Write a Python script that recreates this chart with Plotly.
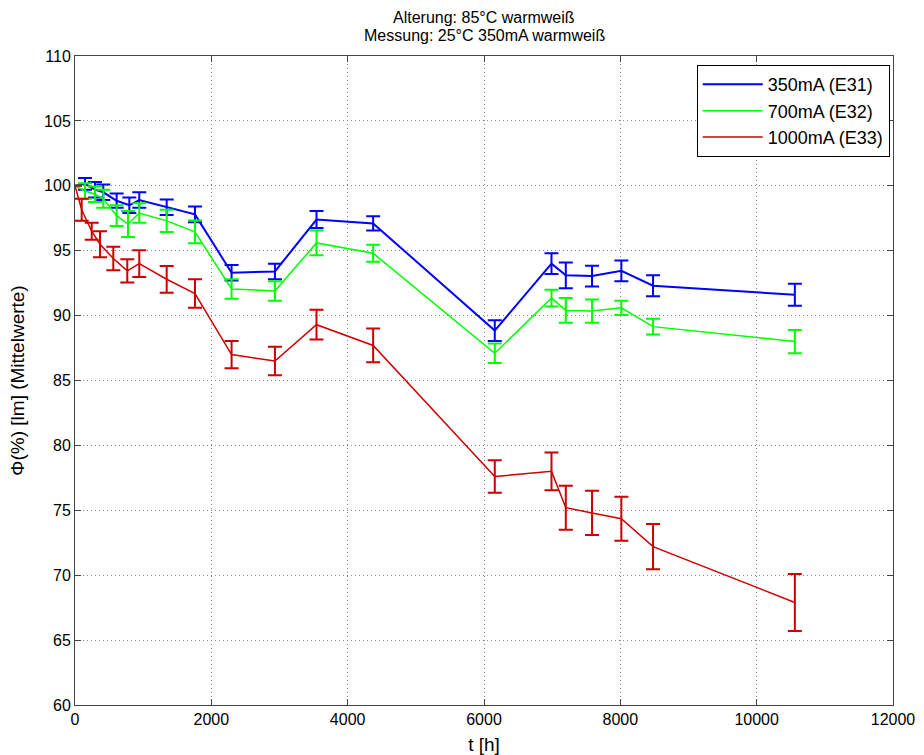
import plotly.graph_objects as go

# Messzeitpunkte [h]
t_350 = [0, 147, 293, 415, 611, 797, 943, 1345, 1760, 2297, 2933, 3543, 4374, 6158, 6990, 7200, 7585, 8015, 8480, 10560]
t_700 = [0, 147, 293, 415, 611, 777, 943, 1345, 1760, 2297, 2933, 3543, 4374, 6158, 6990, 7200, 7585, 8015, 8480, 10560]
t_1000 = [0, 98, 245, 367, 562, 767, 943, 1345, 1760, 2297, 2933, 3543, 4374, 6158, 6990, 7200, 7585, 8015, 8480, 10560]

# Lichtstrom in % (Mittelwerte) und Fehlerbalken
phi_350 = [100, 100.15, 99.7, 99.5, 98.85, 98.5, 98.9, 98.35, 97.8, 93.3, 93.4, 97.4, 97.1, 88.85, 94.0, 93.1, 93.05, 93.45, 92.3, 91.6]
err_350 = [0, 0.45, 0.6, 0.6, 0.55, 0.6, 0.6, 0.6, 0.6, 0.6, 0.6, 0.65, 0.55, 0.8, 0.8, 1.0, 0.8, 0.8, 0.8, 0.85]

phi_700 = [100, 99.6, 99.35, 99.0, 97.7, 97.05, 97.9, 97.3, 96.45, 92.05, 91.9, 95.6, 94.8, 87.1, 91.35, 90.4, 90.35, 90.6, 89.15, 88.0]
err_700 = [0, 0.6, 0.6, 0.7, 0.8, 1.0, 0.75, 0.85, 0.88, 0.75, 0.75, 0.95, 0.65, 0.75, 0.65, 0.95, 0.9, 0.55, 0.6, 0.9]

phi_1000 = [100, 98.15, 96.5, 95.5, 94.4, 93.45, 94.0, 92.8, 91.7, 87.0, 86.5, 89.3, 87.7, 77.6, 78.0, 75.2, 74.8, 74.35, 72.2, 67.9]
err_1000 = [0, 0.85, 0.65, 1.0, 0.9, 0.9, 1.03, 1.03, 1.1, 1.05, 1.1, 1.15, 1.3, 1.25, 1.45, 1.7, 1.7, 1.7, 1.75, 2.2]

title_lines = ["Alterung: 85°C warmweiß", "Messung: 25°C 350mA warmweiß"]

series = [
    ("350mA (E31)", t_350, phi_350, err_350, "#0000ff", 2),
    ("700mA (E32)", t_700, phi_700, err_700, "#00ff00", 1.5),
    ("1000mA (E33)", t_1000, phi_1000, err_1000, "#cc0000", 1.5),
]

fig = go.Figure()
for name, t, phi, err, col, lw in series:
    fig.add_trace(go.Scatter(
        x=t, y=phi, name=name, mode="lines",
        line=dict(color=col, width=lw),
        error_y=dict(type="data", array=err, visible=True, color=col, thickness=2, width=7),
    ))

# Titel als zwei Zeilen über dem Plot
for i, txt in enumerate(title_lines):
    fig.add_annotation(text=txt, xref="paper", yref="paper", x=0.5, y=1,
                       xanchor="center", yanchor="bottom", showarrow=False,
                       yshift=28 - i * 18, font=dict(size=16))

fig.update_layout(
    width=924, height=755,
    paper_bgcolor="white", plot_bgcolor="white",
    font=dict(family="Liberation Sans, Arial, sans-serif", size=16, color="black"),
    margin=dict(l=75, r=31, t=56, b=50, autoexpand=False),
    legend=dict(x=0.996, y=0.986, xanchor="right", yanchor="top",
                bgcolor="white", bordercolor="black", borderwidth=1,
                font=dict(size=18), tracegroupgap=0, itemwidth=60),
)

axis_style = dict(
    showline=True, mirror="ticks", linecolor="#444", linewidth=1,
    ticks="inside", ticklen=6, tickcolor="#444",
    showgrid=True, gridcolor="#888", griddash="1px,3px", gridwidth=1,
    zeroline=False, automargin=False, tickformat="d",
)
fig.update_xaxes(range=[0, 12000], dtick=2000, title=dict(text="t [h]", standoff=10), **axis_style)
fig.update_yaxes(range=[60, 110], dtick=5, title=dict(text="Φ(%) [lm] (Mittelwerte)", standoff=14), **axis_style)

config = {'displayModeBar': False}
# Seitenrand des Browsers entfernen, damit die Grafik bei (0,0) beginnt
fig.write_html("out.html", config=config, post_script="document.body.style.margin='0';")
